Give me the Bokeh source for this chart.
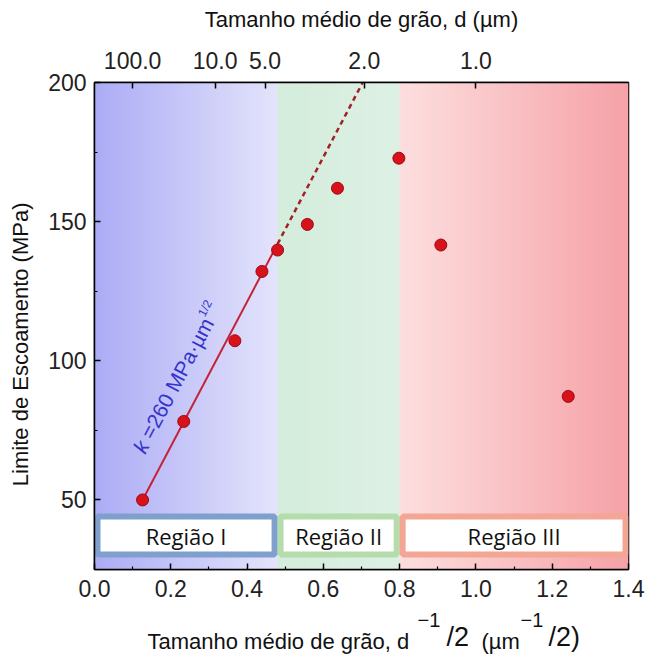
import math
import numpy as np
from bokeh.plotting import figure
from bokeh.layouts import column
from bokeh.models import LinearAxis, FixedTicker, Label, NumeralTickFormatter, Range1d
from bokeh.embed import file_html
from bokeh.resources import INLINE
from bokeh.core.properties import value

# ---------------- data ----------------
grain_inv_sqrt = [0.126, 0.234, 0.368, 0.439, 0.480, 0.558, 0.637, 0.798, 0.908, 1.242]
yield_strength = [50.0, 78.2, 107.2, 132.1, 139.8, 149.0, 162.0, 172.8, 141.6, 87.2]
hp_slope = 260.0          # k = 260 MPa·µm^1/2
hp_intercept = 17.2       # sigma_0
fit_start = 0.126
fit_break = 0.48
region_edges = [0.0, 0.48, 0.80, 1.40]
region_names = ["Região I", "Região II", "Região III"]
bottom_ticks = [0.0, 0.2, 0.4, 0.6, 0.8, 1.0, 1.2, 1.4]
bottom_minor = [0.1, 0.3, 0.5, 0.7, 0.9, 1.1, 1.3]
left_ticks = [50, 100, 150, 200]
left_minor = [75, 125, 175]
top_tick_d = [100.0, 10.0, 5.0, 2.0, 1.0]
top_tick_labels = ["100.0", "10.0", "5.0", "2.0", "1.0"]

# ---------------- styles ----------------
W, H = 649, 659
MAIN_H = 608
FL, FR, FT, FB = 94, 628, 82, 569
X0, X1, Y0, Y1 = 0.0, 1.4, 25.0, 200.0
region_grad = [((172, 172, 246), (228, 228, 252)),
               ((212, 237, 220), (222, 241, 229)),
               ((253, 223, 223), (246, 162, 168))]
region_border = ["#7f9fcc", "#b5dcab", "#f2a693"]
FONT = "Liberation Sans"

pxx = (X1 - X0) / (FR - FL)
pxy = (Y1 - Y0) / (FB - FT)
def sx(px):
    return X0 + (px - FL) * pxx
def sy(py):
    return Y1 - (py - FT) * pxy

p = figure(width=W, height=MAIN_H, x_range=(X0, X1), y_range=(Y0, Y1),
           min_border_left=FL, min_border_right=W - FR, min_border_top=FT,
           min_border_bottom=MAIN_H - FB, output_backend="svg", toolbar_location=None,
           x_axis_location=None, y_axis_location=None)
p.grid.visible = False
p.outline_line_color = "black"
p.outline_line_width = 1.5
p.background_fill_color = "white"
p.border_fill_color = "white"

# ---- gradient background ----
N = 700
xs = X0 + (np.arange(N) + 0.5) / N * (X1 - X0)
img = np.zeros((1, N), dtype=np.uint32)
view = img.view(dtype=np.uint8).reshape((1, N, 4))
for i, x in enumerate(xs):
    r = min(int(np.searchsorted(region_edges, x, side="right")) - 1, 2)
    a, b = region_edges[r], region_edges[r + 1]
    t = (x - a) / (b - a)
    c0, c1 = region_grad[r]
    view[0, i, 0] = int(c0[0] + (c1[0] - c0[0]) * t)
    view[0, i, 1] = int(c0[1] + (c1[1] - c0[1]) * t)
    view[0, i, 2] = int(c0[2] + (c1[2] - c0[2]) * t)
    view[0, i, 3] = 255
p.image_rgba(image=[img], x=X0, y=Y0, dw=X1 - X0, dh=Y1 - Y0)

# ---- region boxes ----
box_lo, box_hi = sy(557), sy(513)
inset = 3
lefts = [region_edges[i] + inset * pxx for i in range(3)]
rights = [region_edges[i + 1] - inset * pxx for i in range(3)]
p.quad(left=lefts, right=rights, bottom=box_lo + inset * pxy, top=box_hi - inset * pxy,
       fill_color="white", line_color=region_border, line_width=6)
p.text(x=[(region_edges[i] + region_edges[i + 1]) / 2 for i in range(3)],
       y=[(box_lo + box_hi) / 2] * 3, text=region_names,
       text_font=value("Open Sans"), text_font_size="22px", text_color="#111111",
       text_align="center", text_baseline="middle")

# ---- Hall-Petch fit ----
fit_end = (Y1 - hp_intercept) / hp_slope
p.line([fit_start, fit_break], [hp_intercept + hp_slope * fit_start, hp_intercept + hp_slope * fit_break],
       line_color="#c42236", line_width=2)
p.line([fit_break, fit_end], [hp_intercept + hp_slope * fit_break, hp_intercept + hp_slope * fit_end],
       line_color="#a12127", line_width=2.5, line_dash="5 4")

# ---- points ----
p.scatter(grain_inv_sqrt, yield_strength, size=12, fill_color="#d8121b",
          line_color="#9c0a12", line_width=1)

# ---- axes ----
def style_axis(ax):
    ax.axis_line_color = "black"
    ax.axis_line_width = 1.5
    ax.major_tick_line_color = "black"
    ax.minor_tick_line_color = "black"
    ax.major_tick_line_width = 1.5
    ax.minor_tick_line_width = 1.2
    ax.major_tick_in = 6
    ax.major_tick_out = 0
    ax.minor_tick_in = 3
    ax.minor_tick_out = 0
    ax.major_label_text_font = FONT
    ax.major_label_text_font_size = "23px"
    ax.major_label_text_color = "#222222"
    ax.axis_label_text_font = FONT
    ax.axis_label_text_font_style = "normal"
    ax.axis_label_text_font_size = "22px"
    ax.axis_label_text_color = "#111111"

bx = LinearAxis(ticker=FixedTicker(ticks=bottom_ticks, minor_ticks=bottom_minor),
                formatter=NumeralTickFormatter(format="0.0"))
style_axis(bx)
bx.major_label_standoff = 10
p.add_layout(bx, "below")

ly = LinearAxis(ticker=FixedTicker(ticks=left_ticks, minor_ticks=left_minor),
                axis_label="Limite de Escoamento (MPa)" + "\u00a0" * 6)
style_axis(ly)
ly.major_label_standoff = 8
ly.axis_label_standoff = 12
p.add_layout(ly, "left")

top_pos = [round(d ** -0.5, 4) for d in top_tick_d]
tx = LinearAxis(ticker=FixedTicker(ticks=top_pos, minor_ticks=[]),
                major_label_overrides={t: l for t, l in zip(top_pos, top_tick_labels)},
                axis_label="Tamanho médio de grão, d (µm)")
style_axis(tx)
tx.major_label_standoff = 14
tx.axis_label_standoff = 17
p.add_layout(tx, "above")

# ---- k annotation along fit line ----
ang = math.atan(hp_slope / pxy / (1 / pxx))
ux, uy = math.cos(ang) * pxx, math.sin(ang) * pxy
nx, ny = -math.sin(ang) * pxx, math.cos(ang) * pxy
ox, oy = sx(138), sy(451)
kcol = "#3434cc"
p.add_layout(Label(x=ox, y=oy, text="k", angle=ang, text_font=FONT, text_font_size="21px",
                   text_font_style="italic", text_color=kcol, text_baseline="alphabetic"))
w1 = 16.5
p.add_layout(Label(x=ox + w1 * ux, y=oy + w1 * uy, text="=260 MPa·µm", angle=ang,
                   text_font=FONT, text_font_size="21px", text_color=kcol, text_baseline="alphabetic"))
w2 = w1 + 133
p.add_layout(Label(x=ox + w2 * ux + 8 * nx, y=oy + w2 * uy + 8 * ny, text="1/2", angle=ang,
                   text_font=FONT, text_font_size="12px", text_color=kcol, text_baseline="alphabetic"))

# ---- bottom axis title with superscripts (separate strip, page-pixel coordinates) ----
SH = H - MAIN_H
q = figure(width=W, height=SH, x_range=Range1d(FL, FR), y_range=Range1d(H, MAIN_H),
           min_border=0, min_border_left=FL, min_border_right=W - FR,
           min_border_top=0, min_border_bottom=0,
           output_backend="svg", toolbar_location=None,
           x_axis_location=None, y_axis_location=None)
q.grid.visible = False
q.outline_line_color = None
q.background_fill_color = "white"
q.border_fill_color = "white"
piece_text = ["Tamanho médio de grão, d", "\u22121", "/2", "(µm", "\u22121", "/2)"]
piece_x = [147, 417, 446, 481, 520, 548]
piece_y = [641, 619, 636, 641, 619, 636]
piece_fs = ["22px", "20px", "27px", "22px", "20px", "27px"]
for txt, lx, by, fs in zip(piece_text, piece_x, piece_y, piece_fs):
    q.text(x=[lx], y=[by], text=[txt], text_font=value(FONT), text_font_size=fs,
           text_color="#111111", text_align="left", text_baseline="alphabetic")

layout = column(p, q, spacing=0)
open("out.html", "w").write(file_html(layout, INLINE))
